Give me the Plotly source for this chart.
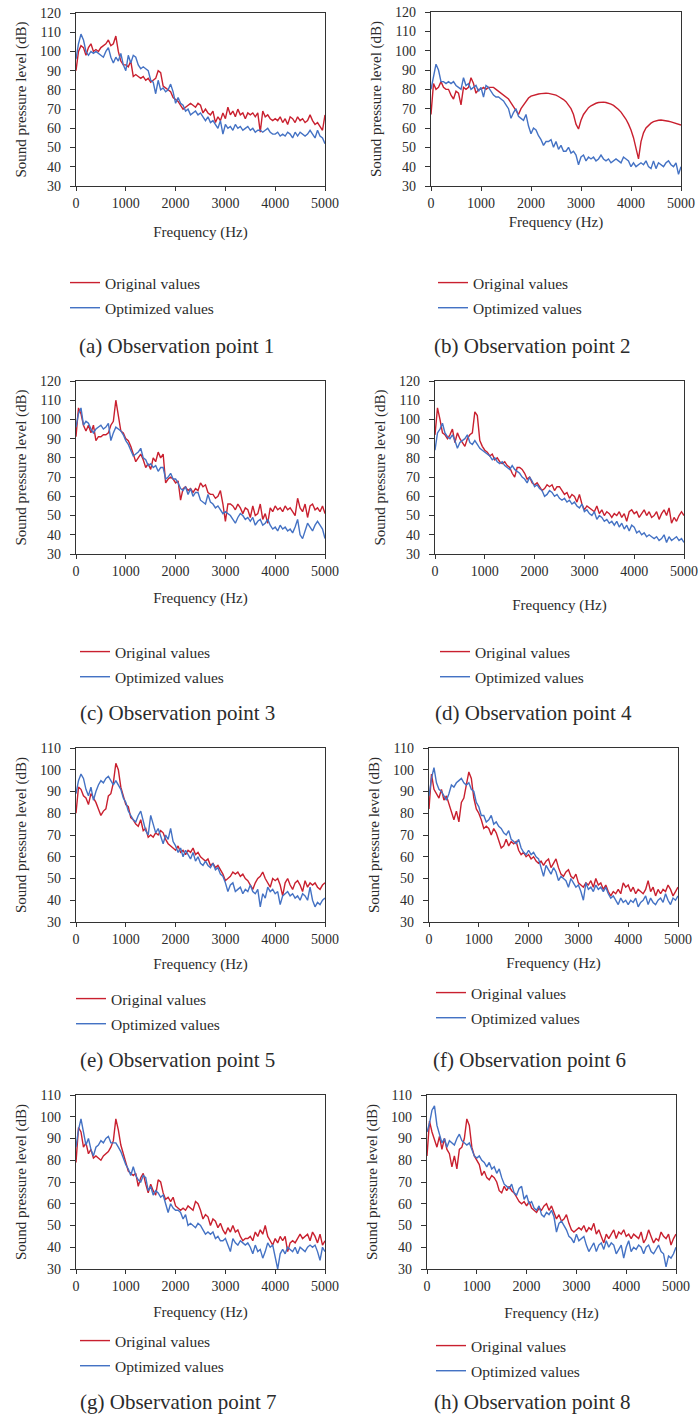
import plotly.graph_objects as go

# ---------------- data ----------------
freq = list(range(0, 5001, 50))  # Hz, 50 Hz grid

a_orig = [90, 100, 103, 102, 98, 102, 104, 100, 101, 100,
          102, 103, 104, 106, 103, 104, 108, 100, 95, 93,
          93, 92, 95, 87, 88, 87, 86, 87, 85, 86,
          84, 85, 86, 90, 89, 82, 81, 80, 79, 76,
          75, 74, 72, 70, 71, 72, 73, 72, 71, 73,
          72, 68, 70, 68, 67, 69, 63, 66, 64, 68,
          65, 71, 67, 69, 66, 70, 67, 68, 65, 68,
          67, 68, 66, 68, 58, 69, 66, 67, 65, 64,
          65, 64, 66, 63, 65, 62, 66, 65, 63, 66,
          64, 65, 63, 64, 67, 64, 62, 63, 61, 59,
          67]
a_opt = [96, 104, 109, 106, 100, 98, 100, 99, 100, 99,
         98, 97, 100, 102, 97, 94, 97, 95, 99, 93,
         90, 98, 94, 98, 97, 93, 91, 92, 91, 90,
         85, 84, 78, 85, 80, 81, 79, 80, 83, 79,
         73, 76, 73, 72, 69, 70, 67, 68, 69, 67,
         68, 66, 64, 66, 63, 64, 62, 60, 64, 57,
         62, 60, 61, 59, 62, 60, 61, 59, 60, 61,
         59, 60, 58, 59, 59, 58, 59, 60, 58, 57,
         57, 58, 56, 57, 56, 58, 57, 55, 58, 56,
         58, 57, 56, 57, 59, 57, 55, 59, 56, 55,
         52]

b_orig = [67, 83, 80, 81, 84, 81, 80, 80, 77, 75,
          79, 78, 72, 81, 80, 81, 86, 83, 78, 80,
          80, 81, 80, 81, 81, 81, 80, 79, 78, 77,
          76, 75, 73, 71, 69, 67, 70, 72, 74, 75.5,
          76.5, 77, 77.3, 77.6, 77.8, 78, 78, 77.9, 77.7, 77.3,
          77, 76.3, 75.6, 74.7, 73.6, 72, 70, 67, 62, 59.5,
          64, 67, 69, 70.5, 71.5, 72.3, 72.8, 73.2, 73.4, 73.4,
          73.2, 72.9, 72.4, 71.7, 70.8, 69.6, 68.2, 66.5, 64.5, 62,
          59, 55, 49, 44, 53, 57.5, 60, 61.5, 62.5, 63.3,
          63.8, 64, 64.1, 64, 63.8, 63.5, 63.2, 62.8, 62.3, 61.8,
          61.5]
b_opt = [80, 87, 93, 90, 84, 84, 83, 84, 83, 84,
         82, 81, 80, 86, 82, 83, 80, 81, 82, 79,
         81, 76, 82, 81, 79, 77, 76, 76, 75, 74,
         72, 70, 65, 68, 70, 66, 65, 64, 67, 61,
         57, 60, 59, 56, 54, 51, 53, 53, 54, 50,
         53, 49, 51, 48, 48, 50, 47, 48, 46, 41,
         45, 46, 43, 45, 44, 45, 43, 44, 46, 44,
         43, 44, 42, 43, 44, 43, 42, 45, 44, 43,
         40, 42, 40, 41, 42, 41, 43, 40, 39, 43,
         39, 42, 41, 40, 42, 43, 41, 40, 42, 36,
         40]

c_orig = [91, 106, 103, 97, 94, 97, 93, 97, 89, 91,
          91, 92, 92, 93, 97, 99, 110, 103, 94, 93,
          90, 89, 86, 82, 78, 80, 82, 79, 75, 77,
          74, 80, 78, 83, 80, 82, 67, 69, 70, 69,
          67, 68, 58, 64, 65, 63, 64, 62, 64, 63,
          67, 65, 66, 62, 61, 61, 59, 60, 63, 56,
          47, 56, 56, 55, 53, 56, 54, 51, 54, 53,
          49, 55, 50, 51, 56, 48, 51, 46, 54, 52,
          55, 53, 54, 52, 55, 53, 54, 52, 50, 59,
          54, 52, 56, 49, 55, 56, 53, 54, 52, 55,
          51]
c_opt = [96, 103, 106, 97, 99, 98, 95, 93, 95, 96,
         97, 95, 96, 98, 89, 93, 96, 95, 94, 92,
         89, 87, 84, 81, 82, 83, 85, 80, 79, 76,
         77, 75, 76, 73, 75, 75, 69, 70, 72, 69,
         69, 67, 64, 63, 65, 61, 64, 60, 62, 62,
         58, 57, 56, 61, 57, 56, 54, 55, 53, 51,
         52, 51, 50, 48, 46, 49, 51, 50, 48, 49,
         47, 49, 45, 47, 48, 45, 46, 48, 45, 43,
         44, 42, 45, 43, 44, 42, 43, 41, 44, 48,
         40, 38, 42, 46, 44, 42, 45, 47, 45, 43,
         38]

d_orig = [92, 106, 100, 93, 92, 90, 92, 95, 88, 93,
          90, 88, 86, 90, 92, 93, 104, 102, 89, 86,
          84, 83, 81, 82, 79, 80, 78, 77, 78, 76,
          75, 72, 70, 75, 75, 74, 72, 69, 70, 67,
          66, 67, 65, 63, 64, 66, 65, 66, 63, 65,
          65, 63, 61, 62, 59, 61, 60, 57, 61, 56,
          53, 55, 54, 53, 52, 55, 51, 53, 50, 52,
          51, 49, 51, 50, 52, 49, 51, 47, 52, 53,
          51, 52, 49, 51, 53, 50, 52, 49, 50, 52,
          48, 51, 53, 50, 54, 46, 49, 47, 50, 52,
          50]
d_opt = [84, 93, 95, 98, 93, 91, 90, 92, 89, 85,
         88, 89, 90, 92, 88, 87, 89, 87, 85, 84,
         83, 82, 81, 79, 80, 78, 77, 78, 76, 75,
         74, 76, 74, 73, 72, 70, 69, 67, 70, 68,
         65, 66, 64, 63, 60, 61, 63, 62, 60, 61,
         59, 58, 59, 57, 58, 56, 57, 55, 54, 56,
         52, 53, 51, 50, 52, 48, 50, 49, 47, 48,
         46, 47, 45, 47, 44, 46, 43, 45, 42, 45,
         44, 41, 42, 40, 41, 39, 40, 39, 38, 39,
         37, 38, 40, 36, 39, 37, 38, 39, 37, 38,
         36]

e_orig = [80, 92, 91, 88, 87, 84, 89, 87, 85, 82,
          79, 81, 82, 88, 89, 94, 103, 100, 92, 88,
          84, 83, 78, 77, 75, 74, 77, 72, 73, 69,
          70, 69, 71, 70, 72, 71, 68, 66, 65, 64,
          63, 65, 62, 63, 61, 63, 62, 64, 61, 62,
          60, 59, 58, 59, 56, 57, 55, 56, 54, 52,
          49, 50, 51, 53, 52, 53, 51, 52, 50, 49,
          47, 45, 48, 50, 51, 53, 50, 48, 46, 50,
          49, 50, 47, 42, 48, 50, 47, 45, 48, 49,
          47, 44, 49, 46, 48, 47, 48, 46, 45, 47,
          48]
e_opt = [89, 95, 98, 96, 91, 88, 92, 86, 90, 93,
         95, 94, 96, 97, 95, 93, 95, 93, 91, 87,
         85, 81, 79, 77, 76, 79, 81, 76, 72, 70,
         79, 75, 71, 73, 69, 66, 70, 68, 73, 67,
         65, 62, 64, 60, 63, 61, 59, 62, 58, 60,
         57, 56, 58, 56, 55, 57, 54, 55, 52, 51,
         48, 44, 47, 48, 44, 45, 46, 43, 45, 44,
         47, 44, 43, 45, 37, 43, 41, 46, 44, 45,
         43, 44, 38, 42, 43, 44, 42, 43, 41, 42,
         40, 43, 42, 40, 46, 40, 37, 39, 38, 40,
         41]

f_orig = [82, 98, 91, 89, 87, 91, 86, 88, 84, 80,
          77, 81, 76, 85, 87, 93, 99, 96, 87, 82,
          80, 77, 73, 74, 73, 70, 73, 71, 67, 64,
          65, 68, 65, 67, 66, 67, 63, 61, 62, 60,
          61, 59, 60, 58, 57, 58, 56, 58, 59, 55,
          57, 59, 55, 52, 51, 53, 54, 51, 50, 52,
          48, 47, 46, 48, 47, 49, 46, 50, 47, 48,
          45, 47, 44, 42, 44, 43, 45, 43, 48, 46,
          47, 44, 46, 43, 45, 44, 43, 45, 49, 44,
          46, 42, 45, 43, 45, 44, 47, 45, 42, 44,
          46]
f_opt = [88, 96, 101, 94, 91, 90, 88, 86, 89, 93,
         92, 94, 95, 96, 94, 93, 94, 91, 90, 85,
         83, 79, 79, 76, 77, 79, 75, 76, 74, 73,
         71, 70, 72, 68, 67, 66, 68, 64, 62, 61,
         63, 61, 62, 60, 59, 55, 51, 56, 54, 52,
         55, 53, 49, 51, 50, 49, 46, 50, 48, 46,
         47, 44, 40, 48, 45, 46, 44, 47, 45, 46,
         44, 46, 43, 41, 42, 40, 38, 41, 39, 40,
         38, 40, 39, 41, 37, 39, 40, 42, 38, 41,
         39, 38, 40, 41, 39, 43, 40, 38, 41, 40,
         42]

g_orig = [79, 95, 93, 86, 88, 83, 85, 81, 82, 81,
          80, 82, 83, 84, 86, 89, 99, 94, 87, 83,
          78, 75, 74, 73, 74, 68, 72, 74, 69, 65,
          69, 66, 64, 71, 70, 65, 62, 63, 61, 63,
          59, 58, 57, 58, 57, 59, 58, 57, 61, 60,
          57, 53, 55, 54, 50, 53, 52, 49, 51, 48,
          46, 49, 47, 50, 47, 48, 45, 43, 44, 44,
          45, 43, 47, 45, 48, 46, 50, 45, 43, 41,
          44, 42, 45, 43, 45, 38, 42, 43, 42, 44,
          46, 44, 45, 46, 43, 47, 45, 42, 46, 41,
          43]
g_opt = [86, 94, 99, 92, 87, 90, 85, 82, 86, 87,
         89, 88, 90, 91, 88, 88, 88, 86, 84, 81,
         78, 76, 73, 77, 73, 71, 70, 73, 72, 66,
         68, 64, 66, 65, 63, 64, 60, 56, 60, 58,
         57, 57, 56, 53, 55, 50, 51, 50, 49, 51,
         50, 48, 46, 47, 46, 47, 44, 45, 43, 43,
         44, 41, 38, 44, 42, 41, 43, 42, 41, 42,
         40, 37, 41, 38, 39, 35, 38, 42, 40, 41,
         36, 30, 37, 39, 37, 40, 39, 38, 40, 37,
         40, 39, 38, 40, 41, 40, 41, 38, 34, 40,
         38]

h_orig = [82, 98, 93, 89, 86, 91, 85, 90, 85, 83,
          77, 82, 76, 85, 86, 90, 99, 96, 86, 82,
          80, 78, 73, 75, 72, 71, 73, 72, 70, 66,
          65, 68, 66, 68, 66, 65, 63, 61, 60, 61,
          59, 61, 58, 57, 56, 58, 57, 59, 60, 57,
          59, 56, 53, 55, 52, 53, 55, 51, 48, 47,
          48, 49, 48, 50, 47, 49, 48, 51, 46, 48,
          45, 42, 46, 44, 46, 48, 44, 47, 46, 48,
          45, 46, 44, 46, 45, 44, 47, 42, 44, 48,
          45, 42, 44, 43, 47, 45, 44, 46, 41, 44,
          46]
h_opt = [93, 97, 103, 105, 96, 92, 88, 90, 86, 89,
         88, 87, 90, 92, 89, 88, 87, 88, 85, 82,
         81, 82, 80, 79, 77, 79, 76, 77, 74, 76,
         72, 69, 68, 67, 69, 65, 64, 67, 68, 62,
         64, 60, 61, 58, 57, 59, 55, 54, 56, 55,
         57, 54, 47, 51, 52, 50, 48, 45, 44, 42,
         46, 43, 44, 45, 41, 38, 40, 42, 38, 41,
         42, 39, 43, 40, 42, 41, 37, 39, 41, 35,
         40, 43, 38, 40, 39, 41, 40, 37, 40, 41,
         38, 37, 39, 41, 38, 37, 31, 36, 35, 37,
         40]

captions = ["(a) Observation point 1", "(b) Observation point 2",
            "(c) Observation point 3", "(d) Observation point 4",
            "(e) Observation point 5", "(f) Observation point 6",
            "(g) Observation point 7", "(h) Observation point 8"]
series_orig = [a_orig, b_orig, c_orig, d_orig, e_orig, f_orig, g_orig, h_orig]
series_opt = [a_opt, b_opt, c_opt, d_opt, e_opt, f_opt, g_opt, h_opt]
y_max = [120, 120, 120, 120, 110, 110, 110, 110]
x_ticks = [0, 1000, 2000, 3000, 4000, 5000]
name_orig = "Original values"
name_opt = "Optimized values"
x_title = "Frequency (Hz)"
y_title = "Sound pressure level (dB)"

# ---------------- layout geometry (pixels) ----------------
W, H = 698, 1420
# plot boxes: left, right, top, bottom
boxes = [(76, 325, 13, 186), (431, 681, 12, 186),
         (76, 325, 381, 554), (435, 684, 381, 554),
         (76, 325, 748, 922), (429, 678, 748, 922),
         (76, 325, 1095, 1269), (427, 676, 1095, 1269)]
x_title_standoff = [16, 6, 14, 21, 12, 11, 13, 14]
legend_pos = [(65, 266), (433, 266), (75, 635), (435, 635),
              (71, 982), (431, 976), (75, 1324), (431, 1329)]
caption_pos = [(77, 346), (432, 346), (78, 713), (433, 713),
               (78, 1060), (431, 1060), (78, 1402), (432, 1402)]

RED = "#C9202F"
BLUE = "#4472C4"
SERIF = "Liberation Serif, Times New Roman, serif"
TXT = "#2b2b2b"

fig = go.Figure()
layout = dict(width=W, height=H, margin=dict(l=0, r=0, t=0, b=0),
              paper_bgcolor="white", plot_bgcolor="white",
              font=dict(family=SERIF, color=TXT), annotations=[])

for i in range(8):
    k = "" if i == 0 else str(i + 1)
    leg = "legend" + k
    fig.add_trace(go.Scatter(x=freq, y=series_orig[i], mode="lines", name=name_orig,
                             line=dict(color=RED, width=1.4), xaxis="x" + k, yaxis="y" + k,
                             legend=leg, legendgroup="o" + k, showlegend=True))
    fig.add_trace(go.Scatter(x=freq, y=series_opt[i], mode="lines", name=name_opt,
                             line=dict(color=BLUE, width=1.4), xaxis="x" + k, yaxis="y" + k,
                             legend=leg, legendgroup="p" + k, showlegend=True))
    l, r, t, b = boxes[i]
    ax = dict(domain=[l / W, r / W], range=[0, 5000], tickvals=x_ticks,
              showgrid=False, zeroline=False, showline=True, linecolor="#333",
              linewidth=1.2, mirror=True, ticks="outside", ticklen=4, tickcolor="#333",
              tickfont=dict(family=SERIF, size=14, color=TXT),
              title=dict(text=x_title, font=dict(family=SERIF, size=15, color=TXT),
                         standoff=x_title_standoff[i]),
              anchor="y" + k, automargin=False)
    ay = dict(domain=[1 - b / H, 1 - t / H], range=[30, y_max[i]], dtick=10,
              showgrid=False, zeroline=False, showline=True, linecolor="#333",
              linewidth=1.2, mirror=True, ticks="outside", ticklen=5, tickcolor="#333",
              ticklabelstandoff=6,
              tickfont=dict(family=SERIF, size=14, color=TXT),
              title=dict(text=y_title, font=dict(family=SERIF, size=15, color=TXT),
                         standoff=9),
              anchor="x" + k, automargin=False)
    layout["xaxis" + k] = ax
    layout["yaxis" + k] = ay
    lx, ly = legend_pos[i]
    layout[leg] = dict(x=lx / W, y=1 - ly / H, xanchor="left", yanchor="top",
                       bgcolor="rgba(0,0,0,0)", borderwidth=0, itemwidth=30,
                       tracegroupgap=2, traceorder="grouped",
                       font=dict(family=SERIF, size=15.5, color=TXT))
    cx, cy = caption_pos[i]
    layout["annotations"].append(dict(text=captions[i], x=cx / W, y=1 - cy / H,
                                      xref="paper", yref="paper", xanchor="left",
                                      yanchor="middle", showarrow=False,
                                      font=dict(family=SERIF, size=21, color=TXT)))

fig.update_layout(**layout)
fig.write_html("out.html")
